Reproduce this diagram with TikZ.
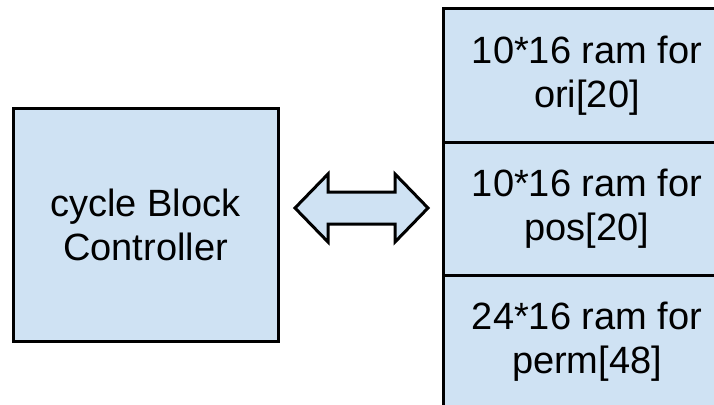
\documentclass[tikz,border=0pt]{standalone}
\usepackage{fontspec}
\setmainfont{Liberation Sans}
\definecolor{boxblue}{HTML}{CFE2F3}
\begin{document}
\begin{tikzpicture}[x=1pt,y=-1pt,
  block/.style={draw=black, line width=3pt, fill=boxblue, align=center,
    font=\fontsize{38}{44}\selectfont, inner sep=0pt},
  ram/.style={block, minimum width=288pt, minimum height=133pt}]
  \useasboundingbox (0,0) rectangle (714,404);

  % controller block
  \node[block, minimum width=265pt, minimum height=233pt] (ctrl)
    at (145.5,224.5) {cycle Block\\Controller};

  % stacked memories
  \node[ram] (ori)  at (587,75.5)  {10*16 ram for\\ori[20]};
  \node[ram] (pos)  at (587,208.5) {10*16 ram for\\pos[20]};
  \node[ram] (perm) at (587,341.5) {24*16 ram for\\perm[48]};

  % two-way block arrow between controller and memories
  \coordinate (l) at (295,208);
  \coordinate (r) at (428,208);
  \draw[line width=3pt, fill=boxblue, line join=miter]
    (l) -- (328,174) -- (328,192) -- (395,192) -- (395,174) -- (r)
    -- (395,242) -- (395,224) -- (328,224) -- (328,242) -- cycle;
\end{tikzpicture}
\end{document}
